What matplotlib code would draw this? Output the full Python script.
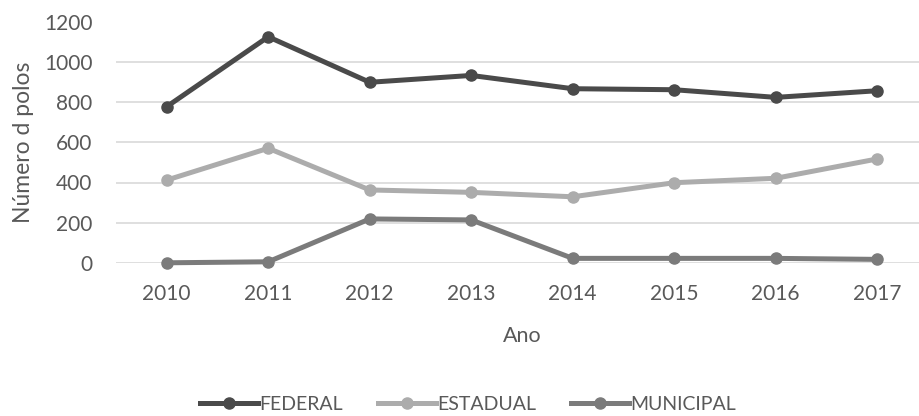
import matplotlib
matplotlib.use("Agg")
import matplotlib.pyplot as plt

plt.rcParams['font.family'] = ['Lato', 'DejaVu Sans']

years = ["2010", "2011", "2012", "2013", "2014", "2015", "2016", "2017"]
federal = [777, 1124, 898, 932, 866, 861, 823, 856]
estadual = [412, 570, 363, 351, 329, 399, 421, 517]
municipal = [1, 6, 219, 214, 23, 23, 23, 18]

series_names = ["FEDERAL", "ESTADUAL", "MUNICIPAL"]
series_colors = ["#4a4a4a", "#acacac", "#7b7b7b"]
yticks = [0, 200, 400, 600, 800, 1000, 1200]

fig = plt.figure(figsize=(9.2, 4.16), dpi=100)
ax = fig.add_axes([116/920, 153/416, 812/920, 241.5/416])

x = list(range(len(years)))
handles = []
for vals, name, col in zip([federal, estadual, municipal], series_names, series_colors):
    h, = ax.plot(x, vals, color=col, lw=3.6, marker='o', markersize=8,
                 label=name, clip_on=False, zorder=3)
    handles.append(h)

ax.set_xlim(-0.5, 7.5)
ax.set_ylim(0, 1200)
ax.set_yticks(yticks)
ax.set_yticklabels([str(v) for v in yticks])
ax.set_xticks(x)
ax.set_xticklabels(years)
ax.grid(axis='y', color='#d9d9d9', lw=1.2, zorder=0)
for s in ax.spines.values():
    s.set_visible(False)
ax.tick_params(axis='both', length=0, labelsize=15, colors='#595959')
ax.tick_params(axis='y', pad=17)
ax.tick_params(axis='x', pad=15)
ax.set_xlabel("Ano", fontsize=15.5, color='#595959', labelpad=16)
ax.set_ylabel("Número d polos", fontsize=16.5, color='#595959', labelpad=7)

fig.legend(handles=handles, labels=series_names, loc='center',
           bbox_to_anchor=(468/920, 1 - 404/416), ncol=3, frameon=False,
           handlelength=3.0, handletextpad=0.05, columnspacing=1.8,
           prop={'size': 14}, labelcolor='#595959')

fig.savefig("out.png", dpi=100)
